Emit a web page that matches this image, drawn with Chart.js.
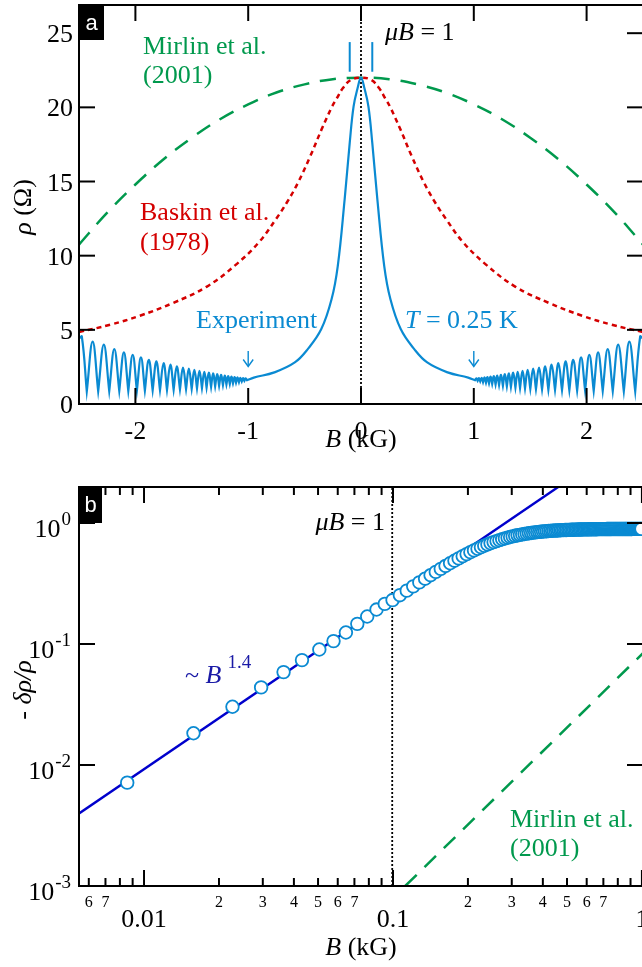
<!DOCTYPE html>
<html>
<head>
<meta charset="utf-8">
<script src="https://cdn.jsdelivr.net/npm/chart.js@4.4.1/dist/chart.umd.min.js"></script>
<style>
  html, body { margin: 0; padding: 0; background: #fff; overflow: hidden; width: 642px; height: 967px; }
  canvas { position: absolute; left: 0; }
  #panelA { top: 0; }
  #panelB { top: 470px; }
</style>
</head>
<body>
<canvas id="panelA" width="650" height="470"></canvas>
<canvas id="panelB" width="650" height="497"></canvas>
<script>
// ---------- Panel a data (B in kG, rho in Ohm) ----------
const greenB = [-2.5, -2.25, -2, -1.75, -1.5, -1.25, -1, -0.75, -0.5, -0.25, 0, 0.25, 0.5, 0.75, 1, 1.25, 1.5, 1.75, 2, 2.25, 2.5];
const greenRho = [10.75, 12.9, 14.8, 16.5, 17.95, 19.2, 20.2, 21.0, 21.55, 21.9, 22.0, 21.9, 21.55, 21.0, 20.2, 19.2, 17.95, 16.5, 14.8, 12.9, 10.75];

const redB = [-2.5, -2.22, -1.96, -1.67, -1.37, -1.1, -0.9, -0.76, -0.66, -0.56, -0.45, -0.35, -0.26, -0.215, -0.16, -0.09, 0,
              0.09, 0.16, 0.215, 0.26, 0.35, 0.45, 0.56, 0.66, 0.76, 0.9, 1.1, 1.37, 1.67, 1.96, 2.22, 2.5];
const redRho = [4.85, 5.35, 5.95, 6.8, 7.9, 9.45, 10.95, 12.4, 13.55, 14.9, 16.7, 18.5, 20.0, 20.6, 21.3, 21.85, 22.0,
                21.85, 21.3, 20.6, 20.0, 18.5, 16.7, 14.9, 13.55, 12.4, 10.95, 9.45, 7.9, 6.8, 5.95, 5.35, 4.85];

// experiment: central peak (|B| going outward)
const expPeakB = [0, 0.03, 0.066, 0.1, 0.145, 0.206, 0.261, 0.352, 0.472, 0.587, 0.768, 0.95];
const expPeakRho = [22.0, 21.3, 20.05, 17.6, 13.8, 9.3, 7.06, 5.05, 3.7, 2.8, 2.13, 1.78];
// experiment: oscillation minima and maxima (|B| going outward)
const oscMinB = [1.011, 1.034, 1.057, 1.082, 1.108, 1.135, 1.163, 1.193, 1.224, 1.258, 1.293, 1.329, 1.369, 1.410, 1.454,
                 1.501, 1.551, 1.605, 1.661, 1.720, 1.782, 1.847, 1.916, 1.987, 2.063, 2.143, 2.232, 2.330, 2.431];
const oscMinRho = [1.6, 1.56, 1.52, 1.47, 1.43, 1.39, 1.35, 1.31, 1.27, 1.23, 1.19, 1.15, 1.11, 1.08, 1.05,
                   1.02, 1.0, 0.98, 0.96, 0.95, 0.93, 0.92, 0.91, 0.9, 0.89, 0.88, 0.87, 0.86, 0.85];
const oscMaxB = [1.022, 1.045, 1.070, 1.095, 1.121, 1.149, 1.178, 1.208, 1.241, 1.275, 1.311, 1.349, 1.389, 1.432, 1.477,
                 1.526, 1.578, 1.633, 1.690, 1.750, 1.814, 1.881, 1.951, 2.024, 2.102, 2.187, 2.280, 2.379, 2.475];
const oscMaxRho = [1.73, 1.75, 1.77, 1.79, 1.82, 1.85, 1.88, 1.92, 1.96, 2.01, 2.06, 2.11, 2.17, 2.24, 2.30,
                   2.38, 2.45, 2.53, 2.65, 2.76, 2.87, 2.98, 3.14, 3.32, 3.48, 3.70, 4.00, 4.20, 4.55];
const expEdgeB = 2.5;
const expEdgeRho = 4.4;

const xTicksA = [-2, -1, 0, 1, 2];
const xTickLabelsA = ['-2', '-1', '0', '1', '2'];
const yTicksA = [0, 5, 10, 15, 20, 25];
const yTickLabelsA = ['0', '5', '10', '15', '20', '25'];

// ---------- Panel b data (B in kG, -drho/rho) ----------
const dataB = [0.00856, 0.0158, 0.02266, 0.02954, 0.03635, 0.0431, 0.0506, 0.0577, 0.0647, 0.0719, 0.0788, 0.0859, 0.0927,
  0.0996, 0.1066, 0.1136, 0.1206, 0.1276, 0.1346, 0.1416, 0.1486, 0.1556, 0.1626, 0.1696, 0.1766, 0.1836, 0.1906, 0.1976,
  0.2046, 0.2116, 0.2186, 0.2256, 0.2326, 0.2396, 0.2466, 0.2536, 0.2606, 0.2676, 0.2746, 0.2816, 0.2886, 0.2956, 0.3026,
  0.3096, 0.3166, 0.3236, 0.3306, 0.3376, 0.3446, 0.3516, 0.3586, 0.3656, 0.3726, 0.3796, 0.3866, 0.3936, 0.4006, 0.4076,
  0.4146, 0.4216, 0.4286, 0.4356, 0.4426, 0.4496, 0.4566, 0.4636, 0.4706, 0.4776, 0.4846, 0.4916, 0.4986, 0.5056, 0.5126,
  0.5196, 0.5266, 0.5336, 0.5406, 0.5476, 0.5546, 0.5616, 0.5686, 0.5756, 0.5826, 0.5896, 0.5966, 0.6036, 0.6106, 0.6176,
  0.6246, 0.6316, 0.6386, 0.6456, 0.6526, 0.6596, 0.6666, 0.6736, 0.6806, 0.6876, 0.6946, 0.7016, 0.7086, 0.7156, 0.7226,
  0.7296, 0.7366, 0.7436, 0.7506, 0.7576, 0.7646, 0.7716, 0.7786, 0.7856, 0.7926, 0.7996, 0.8066, 0.8136, 0.8206, 0.8276,
  0.8346, 0.8416, 0.8486, 0.8556, 0.8626, 0.8696, 0.8766, 0.8836, 0.8906, 0.8976, 0.9046, 0.9116, 0.9186, 0.9256, 0.9326,
  0.9396, 0.9466, 0.9536, 0.9606, 0.9676, 0.9746, 0.9816, 0.9886, 0.9956];
const dataDrho = [0.00715, 0.0183, 0.0303, 0.0438, 0.0586, 0.0736, 0.0901, 0.1057, 0.1245, 0.1468, 0.1687, 0.1927, 0.2144,
  0.2307, 0.2532, 0.2761, 0.2995, 0.3230, 0.3465, 0.3703, 0.3943, 0.4178, 0.4415, 0.4647, 0.4878, 0.5101, 0.5319, 0.5534,
  0.5740, 0.5939, 0.6127, 0.6309, 0.6483, 0.6649, 0.6804, 0.6950, 0.7089, 0.7218, 0.7339, 0.7455, 0.7560, 0.7660, 0.7749,
  0.7836, 0.7914, 0.7985, 0.8052, 0.8117, 0.8174, 0.8227, 0.8277, 0.8322, 0.8364, 0.8403, 0.8439, 0.8472, 0.8503, 0.8532,
  0.8558, 0.8583, 0.8605, 0.8626, 0.8646, 0.8664, 0.8681, 0.8697, 0.8711, 0.8725, 0.8738, 0.8750, 0.8761, 0.8771, 0.8781,
  0.8790, 0.8798, 0.8806, 0.8813, 0.8820, 0.8827, 0.8833, 0.8839, 0.8844, 0.8850, 0.8854, 0.8859, 0.8863, 0.8867, 0.8871,
  0.8875, 0.8878, 0.8881, 0.8884, 0.8887, 0.8890, 0.8893, 0.8895, 0.8897, 0.8899, 0.8901, 0.8903, 0.8905, 0.8907, 0.8909,
  0.8910, 0.8912, 0.8913, 0.8915, 0.8916, 0.8917, 0.8919, 0.8920, 0.8921, 0.8922, 0.8923, 0.8924, 0.8925, 0.8926, 0.8926,
  0.8927, 0.8928, 0.8929, 0.8930, 0.8930, 0.8931, 0.8932, 0.8932, 0.8933, 0.8933, 0.8934, 0.8934, 0.8935, 0.8935, 0.8935,
  0.8936, 0.8936, 0.8936, 0.8937, 0.8937, 0.8937, 0.8937, 0.8938, 0.8938];
const fitB = [0.0055, 0.464];
const fitDrho = [0.0040, 2.0];
const theoryB = [0.112, 1.01];
const theoryDrho = [0.001, 0.084];
const muB1 = 0.0993;

const xMajorB = [0.01, 0.1, 1];
const xMajorLabelsB = ['0.01', '0.1', '1'];
const xMinorB = [0.006, 0.007, 0.008, 0.009, 0.02, 0.03, 0.04, 0.05, 0.06, 0.07, 0.08, 0.09,
                 0.2, 0.3, 0.4, 0.5, 0.6, 0.7, 0.8, 0.9];
const xMinorLabelValuesB = [0.006, 0.007, 0.02, 0.03, 0.04, 0.05, 0.06, 0.07, 0.2, 0.3, 0.4, 0.5, 0.6, 0.7];
const xMinorLabelsB = ['6', '7', '2', '3', '4', '5', '6', '7', '2', '3', '4', '5', '6', '7'];
const yTicksB = [0.001, 0.01, 0.1, 1];
const yExpLabelsB = ['-3', '-2', '-1', '0'];

// ---------- Styles ----------
const SERIF = '"Liberation Serif", "Times New Roman", serif';
const SANS = '"Liberation Sans", Arial, sans-serif';
const BLUE = '#0a8ad2';
const DARKBLUE = '#0000cc';
const GREEN = '#00994d';
const RED = '#d40000';

function fontOf(size, italic, family) {
  return (italic ? 'italic ' : '') + size + 'px ' + (family || SERIF);
}

function line(ctx, x1, y1, x2, y2) {
  ctx.beginPath();
  ctx.moveTo(x1, y1);
  ctx.lineTo(x2, y2);
  ctx.stroke();
}

// parts: {t, i (italic), s (size), dy, dx}
function rich(ctx, parts, x, y, align, color) {
  ctx.fillStyle = color;
  ctx.textBaseline = 'alphabetic';
  ctx.textAlign = 'left';
  let w = 0;
  for (const p of parts) {
    ctx.font = fontOf(p.s || 26, p.i);
    w += ctx.measureText(p.t).width + (p.dx || 0);
  }
  let cx = align === 'right' ? x - w : align === 'center' ? x - w / 2 : x;
  for (const p of parts) {
    ctx.font = fontOf(p.s || 26, p.i);
    cx += p.dx || 0;
    ctx.fillText(p.t, cx, y + (p.dy || 0));
    cx += ctx.measureText(p.t).width;
  }
}

function rotatedTitle(ctx, parts, cx, cy) {
  ctx.save();
  ctx.translate(cx, cy);
  ctx.rotate(-Math.PI / 2);
  rich(ctx, parts, 0, 9, 'center', '#000');
  ctx.restore();
}

function letterBox(ctx, letter, x, y, w, h, base) {
  ctx.fillStyle = '#000';
  ctx.fillRect(x, y, w, h);
  ctx.fillStyle = '#fff';
  ctx.font = fontOf(22, false, SANS);
  ctx.textAlign = 'center';
  ctx.textBaseline = 'alphabetic';
  ctx.fillText(letter, x + w / 2, y + base);
}

// --- Build experiment curve: one side going outward, then mirrored ---
function expSide(sign) {
  const pts = expPeakB.map((b, i) => ({ x: sign * b, y: expPeakRho[i] }));
  oscMinB.forEach((b, i) => {
    // minimum twice -> sharp cusp at the bottom of each arch
    pts.push({ x: sign * b, y: oscMinRho[i] }, { x: sign * b, y: oscMinRho[i] });
    pts.push({ x: sign * oscMaxB[i], y: oscMaxRho[i] });
  });
  pts.push({ x: sign * expEdgeB, y: expEdgeRho });
  return pts;
}
const expData = expSide(-1).reverse().concat(expSide(1).slice(1));

const common = {
  responsive: false,
  animation: false,
  events: [],
  plugins: { legend: { display: false }, tooltip: { enabled: false } },
  elements: { point: { radius: 0 } }
};

// --- Panel a ---
const panelAPlugin = {
  id: 'panelAFrame',
  afterDraw(chart) {
    const { ctx, chartArea: a, scales: { x, y } } = chart;
    ctx.save();
    ctx.strokeStyle = '#000';
    ctx.lineWidth = 2;
    xTicksA.forEach(v => {
      const px = x.getPixelForValue(v);
      line(ctx, px, a.bottom, px, a.bottom - 16);
      line(ctx, px, a.top, px, a.top + 16);
    });
    yTicksA.forEach(v => {
      const py = y.getPixelForValue(v);
      line(ctx, a.left, py, a.left + 16, py);
      line(ctx, a.right, py, a.right - 16, py);
    });
    ctx.strokeRect(a.left, a.top, a.right - a.left, a.bottom - a.top);

    ctx.fillStyle = '#000';
    ctx.font = fontOf(26);
    ctx.textBaseline = 'alphabetic';
    ctx.textAlign = 'center';
    xTicksA.forEach((v, i) => ctx.fillText(xTickLabelsA[i], x.getPixelForValue(v), a.bottom + 35));
    ctx.textAlign = 'right';
    yTicksA.forEach((v, i) => ctx.fillText(yTickLabelsA[i], a.left - 6, y.getPixelForValue(v) + 9));

    rich(ctx, [{ t: 'B', i: true }, { t: ' (kG)' }], (a.left + a.right) / 2, 447, 'center', '#000');
    rotatedTitle(ctx, [{ t: 'ρ', i: true }, { t: ' (Ω)' }], 22, 207);

    rich(ctx, [{ t: 'Mirlin et al.' }], 143, 54, 'left', GREEN);
    rich(ctx, [{ t: '(2001)' }], 143, 83, 'left', GREEN);
    rich(ctx, [{ t: 'Baskin et al.' }], 140, 220, 'left', RED);
    rich(ctx, [{ t: '(1978)' }], 140, 250, 'left', RED);
    rich(ctx, [{ t: 'μB', i: true }, { t: ' = 1' }], 385, 40, 'left', '#000');
    rich(ctx, [{ t: 'Experiment' }], 196, 328, 'left', BLUE);
    rich(ctx, [{ t: 'T', i: true }, { t: ' = 0.25 K' }], 405, 328, 'left', BLUE);

    // arrows at B = -1 and B = 1
    ctx.strokeStyle = BLUE;
    ctx.lineWidth = 1.4;
    [-1, 1].forEach(v => {
      const px = x.getPixelForValue(v);
      line(ctx, px, 351, px, 366);
      ctx.beginPath();
      ctx.moveTo(px - 5, 359.5);
      ctx.lineTo(px, 366.5);
      ctx.lineTo(px + 5, 359.5);
      ctx.stroke();
    });

    letterBox(ctx, 'a', a.left, a.top, 25, 35, 25);
    ctx.restore();
  }
};

new Chart(document.getElementById('panelA'), {
  type: 'line',
  data: {
    datasets: [
      {
        data: expData, borderColor: BLUE, borderWidth: 2.2, tension: 0.4, order: 0
      },
      {
        data: redB.map((b, i) => ({ x: b, y: redRho[i] })),
        borderColor: RED, borderWidth: 2.5, borderDash: [5, 4], tension: 0.4, order: 2
      },
      {
        data: greenB.map((b, i) => ({ x: b, y: greenRho[i] })),
        borderColor: GREEN, borderWidth: 2.5, borderDash: [16, 11], tension: 0.4, order: 3
      },
      {
        data: [{ x: 0, y: 0 }, { x: 0, y: 26.9 }],
        borderColor: '#000', borderWidth: 1.8, borderDash: [2, 2], order: 4
      },
      {
        data: [{ x: -0.1, y: 22.4 }, { x: -0.1, y: 24.4 }],
        borderColor: BLUE, borderWidth: 2, order: 1
      },
      {
        data: [{ x: 0.1, y: 22.4 }, { x: 0.1, y: 24.4 }],
        borderColor: BLUE, borderWidth: 2, order: 1
      }
    ]
  },
  options: {
    ...common,
    layout: { padding: { left: 79, top: 5, right: 7, bottom: 66 }, autoPadding: false },
    scales: {
      x: { type: 'linear', min: -2.5, max: 2.5, display: false },
      y: { type: 'linear', min: 0, max: 26.9, display: false }
    }
  },
  plugins: [panelAPlugin]
});

// --- Panel b ---
const panelBPlugin = {
  id: 'panelBFrame',
  afterDraw(chart) {
    const { ctx, chartArea: a, scales: { x, y } } = chart;
    ctx.save();
    ctx.strokeStyle = '#000';
    ctx.lineWidth = 2;
    xMajorB.forEach(v => {
      const px = x.getPixelForValue(v);
      line(ctx, px, a.bottom, px, a.bottom - 16);
      line(ctx, px, a.top, px, a.top + 16);
    });
    xMinorB.forEach(v => {
      const px = x.getPixelForValue(v);
      line(ctx, px, a.bottom, px, a.bottom - 8);
      line(ctx, px, a.top, px, a.top + 8);
    });
    yTicksB.forEach(v => {
      const py = y.getPixelForValue(v);
      line(ctx, a.left, py, a.left + 16, py);
      line(ctx, a.right, py, a.right - 16, py);
    });
    ctx.strokeRect(a.left, a.top, a.right - a.left, a.bottom - a.top);

    ctx.fillStyle = '#000';
    ctx.textBaseline = 'alphabetic';
    ctx.textAlign = 'center';
    ctx.font = fontOf(16);
    xMinorLabelValuesB.forEach((v, i) => ctx.fillText(xMinorLabelsB[i], x.getPixelForValue(v), a.bottom + 20.5));
    ctx.font = fontOf(26);
    xMajorB.forEach((v, i) => ctx.fillText(xMajorLabelsB[i], x.getPixelForValue(v), a.bottom + 41));

    // 10^n labels
    yTicksB.forEach((v, i) => {
      const py = y.getPixelForValue(v);
      ctx.textAlign = 'right';
      ctx.font = fontOf(19);
      ctx.fillText(yExpLabelsB[i], 71, py + 2);
      const ew = ctx.measureText(yExpLabelsB[i]).width;
      ctx.font = fontOf(26);
      ctx.fillText('10', 70 - ew, py + 14);
    });

    rich(ctx, [{ t: 'B', i: true }, { t: ' (kG)' }], (a.left + a.right) / 2, 485, 'center', '#000');
    rotatedTitle(ctx, [{ t: '- ' }, { t: 'δρ/ρ', i: true }], 22, 220);

    rich(ctx, [{ t: 'μB', i: true }, { t: ' = 1' }], 385, 60, 'right', '#000');
    rich(ctx, [{ t: '~ ' }, { t: 'B', i: true }, { t: '1.4', s: 19, dy: -15, dx: 6 }], 185, 213, 'left', '#1a1aa6');
    rich(ctx, [{ t: 'Mirlin et al.' }], 510, 357, 'left', GREEN);
    rich(ctx, [{ t: '(2001)' }], 510, 386, 'left', GREEN);

    letterBox(ctx, 'b', a.left, a.top, 23, 36, 25);
    ctx.restore();
  }
};

new Chart(document.getElementById('panelB'), {
  type: 'line',
  data: {
    datasets: [
      {
        data: dataB.map((b, i) => ({ x: b, y: dataDrho[i] })),
        showLine: false, pointRadius: 6.3, pointBorderWidth: 1.8,
        pointBorderColor: BLUE, pointBackgroundColor: '#fff', order: 0
      },
      {
        data: fitB.map((b, i) => ({ x: b, y: fitDrho[i] })),
        borderColor: DARKBLUE, borderWidth: 2.5, order: 1
      },
      {
        data: theoryB.map((b, i) => ({ x: b, y: theoryDrho[i] })),
        borderColor: GREEN, borderWidth: 2.5, borderDash: [16, 11], order: 2
      },
      {
        data: [{ x: muB1, y: 0.001 }, { x: muB1, y: 1.984 }],
        borderColor: '#000', borderWidth: 1.8, borderDash: [2, 2], order: 3
      }
    ]
  },
  options: {
    ...common,
    layout: { padding: { left: 79, top: 17, right: 7, bottom: 81 }, autoPadding: false },
    scales: {
      x: { type: 'logarithmic', min: 0.00548, max: 1.01, display: false },
      y: { type: 'logarithmic', min: 0.001, max: 1.984, display: false }
    }
  },
  plugins: [panelBPlugin]
});
</script>
</body>
</html>
